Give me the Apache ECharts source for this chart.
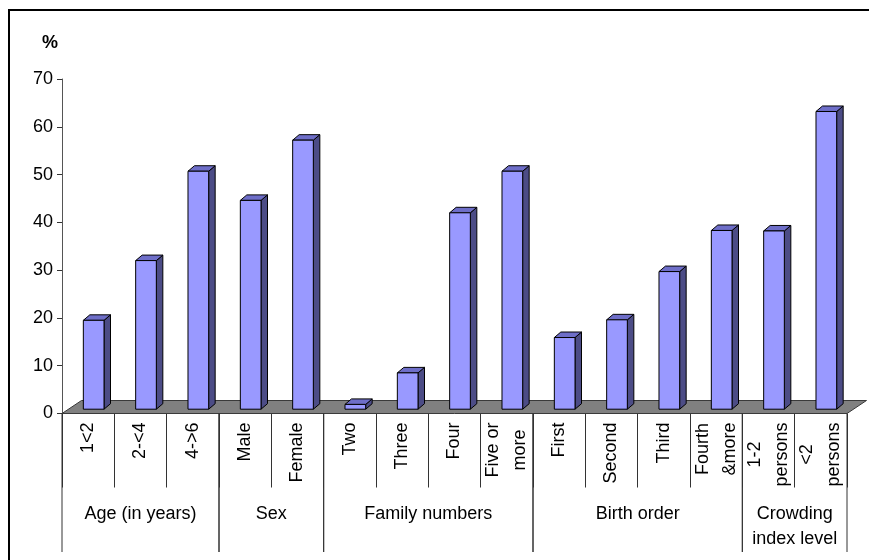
<!DOCTYPE html>
<html>
<head>
<meta charset="utf-8">
<script src="https://cdn.jsdelivr.net/npm/echarts@6/dist/echarts.min.js"></script>
<style>
  html, body { margin: 0; padding: 0; background: #fff; }
  #chart { width: 869px; height: 560px; }
</style>
</head>
<body>
<div id="chart"></div>
<script>
// Categories along the floor, left to right
const categories = ['1<2', '2-<4', '4->6', 'Male', 'Female', 'Two', 'Three', 'Four',
  'Five or\nmore', 'First', 'Second', 'Third', 'Fourth\n&more', '1-2\npersons', '<2\npersons'];
// Percentage for each category
const percentValues = [18.6, 31.1, 49.8, 43.7, 56.3, 1.0, 7.6, 41.1, 49.8, 15.0, 18.7, 28.8, 37.4, 37.3, 62.3];
// Grouping of the categories (names and how many categories each spans)
const groupNames = ['Age (in years)', 'Sex', 'Family numbers', 'Birth order', 'Crowding\nindex level'];
const groupSizes = [3, 2, 4, 4, 2];
// Value axis ticks
const yTicks = [0, 10, 20, 30, 40, 50, 60, 70];

const FONT = 'Liberation Sans, Arial, sans-serif';

// group spans as [firstIndex, 0, lastIndex]
const groupSpans = [];
let start = 0;
groupSizes.forEach(n => { groupSpans.push([start, 0, start + n - 1]); start += n; });

// 3D look parameters
const FLOOR_DX = 19.5, FLOOR_DY = -13;   // floor depth
const PLANE_DX = 5.5, PLANE_DY = -4.3;   // where bars stand inside the floor
const BAR_DX = 6.5, BAR_DY = -5.5;       // bar depth

function renderFloor(params, api) {
  const cs = params.coordSys;
  const x0 = cs.x, x1 = cs.x + cs.width, y = cs.y + cs.height;
  return {
    type: 'polygon',
    shape: { points: [[x0, y], [x1, y], [x1 + FLOOR_DX, y + FLOOR_DY], [x0 + FLOOR_DX, y + FLOOR_DY]] },
    style: { fill: '#808080', stroke: '#3a3a3a', lineWidth: 1 }
  };
}

function renderBar(params, api) {
  const i = api.value(0), v = api.value(1);
  const base = api.coord([i, 0]);
  const top = api.coord([i, v]);
  const band = api.size([1, 0])[0];
  const w = band * 0.395;
  const x0 = base[0] - w / 2 + PLANE_DX, x1 = x0 + w;
  const yb = base[1] + PLANE_DY, yt = top[1] + PLANE_DY;
  const edge = { stroke: '#000', lineWidth: 1, lineJoin: 'miter' };
  return {
    type: 'group',
    children: [
      { type: 'polygon', shape: { points: [[x1, yb], [x1 + BAR_DX, yb + BAR_DY], [x1 + BAR_DX, yt + BAR_DY], [x1, yt]] },
        style: Object.assign({ fill: '#4c4c86' }, edge) },
      { type: 'polygon', shape: { points: [[x0, yt], [x1, yt], [x1 + BAR_DX, yt + BAR_DY], [x0 + BAR_DX, yt + BAR_DY]] },
        style: Object.assign({ fill: '#6e6ec8' }, edge) },
      { type: 'polygon', shape: { points: [[x0, yb], [x1, yb], [x1, yt], [x0, yt]] },
        style: Object.assign({ fill: '#9999ff' }, edge) }
    ]
  };
}

function renderGroup(params, api) {
  const first = api.value(0), last = api.value(2);
  const band = api.size([1, 0])[0];
  const y0 = api.coord([first, 0])[1];
  const xl = api.coord([first, 0])[0] - band / 2;
  const xr = api.coord([last, 0])[0] + band / 2;
  const yEnd = 552;
  const line = { stroke: '#333', lineWidth: 1 };
  return {
    type: 'group',
    children: [
      { type: 'line', shape: { x1: xl, y1: y0, x2: xl, y2: yEnd }, style: line },
      { type: 'line', shape: { x1: xr, y1: y0, x2: xr, y2: yEnd }, style: line },
      { type: 'text', x: (xl + xr) / 2, y: 501.5,
        style: { text: groupNames[params.dataIndex], fill: '#000', font: '18px ' + FONT,
                 align: 'center', verticalAlign: 'top', lineHeight: 25 } }
    ]
  };
}

const chart = echarts.init(document.getElementById('chart'), null, { renderer: 'canvas' });
chart.setOption({
  animation: false,
  backgroundColor: '#fff',
  title: {
    text: '%', left: 37, top: 29,
    textStyle: { fontSize: 18, fontWeight: 'bold', color: '#000', fontFamily: FONT }
  },
  graphic: [{
    type: 'rect', shape: { x: 9, y: 10, width: 900, height: 600 },
    style: { fill: 'none', stroke: '#000', lineWidth: 2 }, silent: true
  }],
  grid: { left: 62, right: 22, top: 79, bottom: 146.5 },
  xAxis: {
    type: 'category',
    data: categories,
    axisLine: { show: false },
    axisTick: { show: true, interval: 0, length: 74, lineStyle: { color: '#333', width: 1 } },
    axisLabel: {
      interval: 0, rotate: 90, margin: 9,
      formatter: v => v.split('\n').map(s => '{c|' + s + '}').join('\n'),
      rich: { c: { align: 'center', fontSize: 18, fontFamily: FONT, color: '#000', lineHeight: 27 } }
    },
    splitLine: { show: false }
  },
  yAxis: {
    type: 'value', min: yTicks[0], max: yTicks[yTicks.length - 1], interval: 10,
    axisLine: { show: true, lineStyle: { color: '#555', width: 1 } },
    axisTick: { show: true, length: 5, lineStyle: { color: '#333' } },
    axisLabel: { fontSize: 18, color: '#000', fontFamily: FONT, margin: 9 },
    splitLine: { show: false }
  },
  series: [
    { type: 'custom', name: 'floor', renderItem: renderFloor, data: [[0, 0]], z: 1, silent: true },
    { type: 'custom', name: 'Percent', renderItem: renderBar,
      data: percentValues.map((v, i) => [i, v]), z: 3 },
    { type: 'custom', name: 'groups', renderItem: renderGroup, data: groupSpans, z: 2, silent: true, clip: false }
  ]
});
</script>
</body>
</html>
